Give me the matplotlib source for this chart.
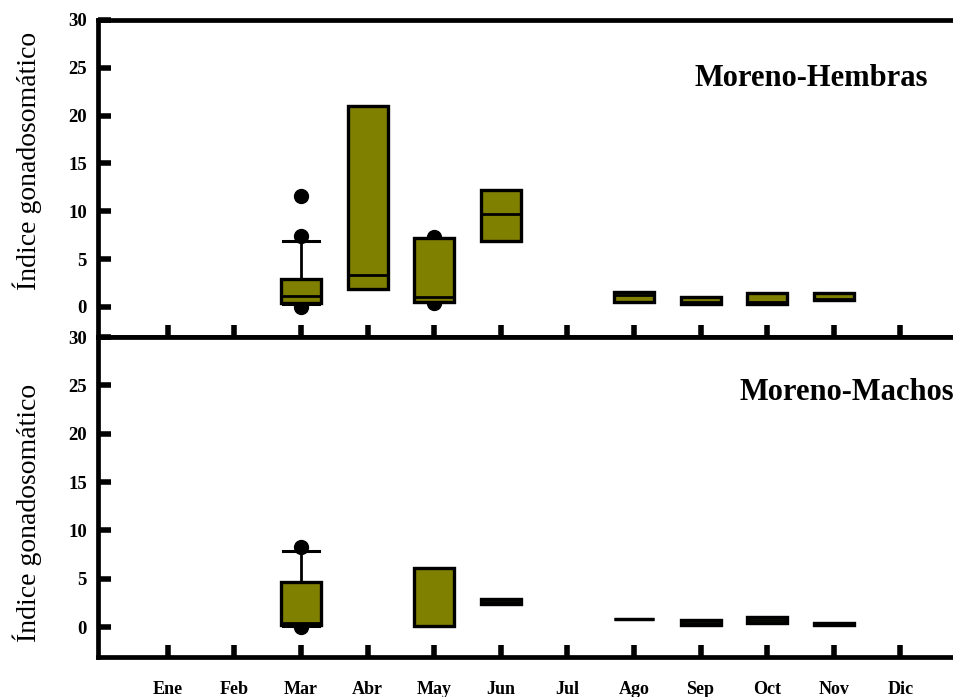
import matplotlib
matplotlib.use("Agg")
import matplotlib.pyplot as plt

meses = ["Ene", "Feb", "Mar", "Abr", "May", "Jun", "Jul", "Ago", "Sep", "Oct", "Nov", "Dic"]

# Moreno - Hembras (indice de mes: Ene=0)
hem_pos = [2, 3, 4, 5, 7, 8, 9, 10]
hem_q1 = [0.4, 1.9, 0.5, 6.9, 0.5, 0.3, 0.3, 0.75]
hem_med = [1.1, 3.3, 1.0, 9.7, 1.25, 0.5, 0.5, 0.85]
hem_q3 = [2.9, 21.0, 7.2, 12.2, 1.55, 1.05, 1.5, 1.5]
hem_wlo = [0.3, 1.9, 0.5, 6.9, 0.5, 0.3, 0.3, 0.75]
hem_whi = [6.9, 21.0, 7.2, 12.2, 1.55, 1.05, 1.5, 1.5]
hem_out = [[11.6, 7.4, 0.0], [], [7.3, 0.4], [], [], [], [], []]

# Moreno - Machos
mac_pos = [2, 4, 5, 7, 8, 9, 10]
mac_q1 = [0.2, 0.1, 2.35, 0.8, 0.25, 0.45, 0.2]
mac_med = [0.4, 0.15, 2.6, 0.8, 0.45, 0.75, 0.3]
mac_q3 = [4.7, 6.1, 2.85, 0.8, 0.7, 1.05, 0.45]
mac_wlo = [0.1, 0.1, 2.35, 0.8, 0.25, 0.45, 0.2]
mac_whi = [7.9, 6.1, 2.85, 0.8, 0.7, 1.05, 0.45]
mac_out = [[8.3, 0.0], [], [], [], [], [], []]

oliva = "#808000"
fuente = "Liberation Serif"
W, H = 954, 697

fig = plt.figure(figsize=(9.54, 6.97), dpi=100)
ax1 = fig.add_axes([98 / W, 1 - 337 / H, 1 - 98 / W + 0.01, (337 - 20) / H])
ax2 = fig.add_axes([98 / W, 1 - 657 / H, 1 - 98 / W + 0.01, (657 - 337) / H])


def cajas(ax, pos, q1, med, q3, wlo, whi, out):
    stats = []
    for i in range(len(pos)):
        stats.append({"med": med[i], "q1": q1[i], "q3": q3[i],
                      "whislo": wlo[i], "whishi": whi[i], "fliers": out[i]})
    ax.bxp(stats, positions=pos, widths=0.6, capwidths=0.55, patch_artist=True,
           boxprops=dict(facecolor=oliva, edgecolor="black", linewidth=2.4, zorder=3),
           medianprops=dict(color="black", linewidth=2.0, zorder=4),
           whiskerprops=dict(color="black", linewidth=2.0, zorder=2),
           capprops=dict(color="black", linewidth=2.2, zorder=2),
           flierprops=dict(marker="o", markerfacecolor="black", markeredgecolor="black",
                           markersize=10, zorder=1))


cajas(ax1, hem_pos, hem_q1, hem_med, hem_q3, hem_wlo, hem_whi, hem_out)
cajas(ax2, mac_pos, mac_q1, mac_med, mac_q3, mac_wlo, mac_whi, mac_out)

for ax, y0 in [(ax1, -3.14), (ax2, -3.1)]:
    ax.set_xlim(-1.05, 11.95)
    ax.set_ylim(y0, 30)
    ax.set_yticks([0, 5, 10, 15, 20, 25, 30])
    ax.set_xticks(range(12))
    ax.spines["right"].set_visible(False)
    for s in ["left", "bottom", "top"]:
        ax.spines[s].set_linewidth(3.4)
    ax.tick_params(axis="both", direction="in", length=9, width=4, color="black")
    ax.tick_params(axis="y", pad=8)
    ax.tick_params(top=False, right=False)
    for lab in ax.get_yticklabels():
        lab.set_fontfamily(fuente)
        lab.set_fontweight("bold")
        lab.set_fontsize(13.5)

ax1.set_xticklabels([])
ax2.set_xticklabels(meses, fontfamily=fuente, fontweight="bold", fontsize=13)
ax2.tick_params(axis="x", pad=17)

fig.text(928 / W, 1 - 78 / H, "Moreno-Hembras", ha="right", va="center",
         fontfamily=fuente, fontweight="bold", fontsize=22)
fig.text(954 / W, 1 - 392 / H, "Moreno-Machos", ha="right", va="center",
         fontfamily=fuente, fontweight="bold", fontsize=22)

fig.text(27 / W, 1 - 161 / H, "Índice gonadosomático", rotation=90, ha="center",
         va="center", fontfamily=fuente, fontsize=20)
fig.text(27 / W, 1 - 513 / H, "Índice gonadosomático", rotation=90, ha="center",
         va="center", fontfamily=fuente, fontsize=20)

fig.savefig("out.png", dpi=100)
